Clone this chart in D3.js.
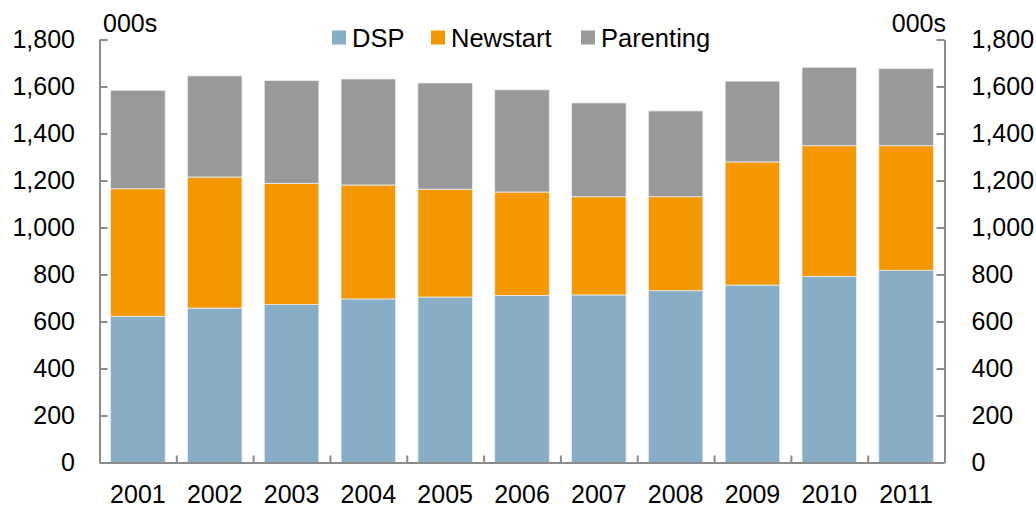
<!DOCTYPE html>
<html>
<head>
<meta charset="utf-8">
<script src="https://cdn.jsdelivr.net/npm/d3@7"></script>
<style>
  body { margin: 0; background: #fff; }
  svg text { font-family: "Liberation Sans", Arial, sans-serif; fill: #000; }
</style>
</head>
<body>
<svg id="chart" width="1036" height="507"></svg>
<script>
// values in thousands
const years = ['2001', '2002', '2003', '2004', '2005', '2006', '2007', '2008', '2009', '2010', '2011'];
const dsp = [622, 657, 672, 696, 704, 711, 713, 731, 755, 792, 818];
const newstart = [543, 558, 516, 485, 459, 440, 418, 400, 524, 556, 530];
const parenting = [419, 430, 437, 451, 452, 435, 399, 365, 344, 334, 328];
const seriesNames = ['DSP', 'Newstart', 'Parenting'];
const yTicks = [0, 200, 400, 600, 800, 1000, 1200, 1400, 1600, 1800];

const colors = { DSP: '#87aec6', Newstart: '#f39800', Parenting: '#999999' };

const svg = d3.select('#chart');
const plotLeft = 99.5, plotRight = 944.5, plotTop = 39.5, plotBottom = 462.5;

const rows = years.map((yr, i) => ({
    year: yr,
    DSP: dsp[i],
    Newstart: newstart[i],
    Parenting: parenting[i]
}));

const x = d3.scaleBand().domain(years).range([plotLeft, plotRight]).paddingInner(0.29).paddingOuter(0.145);
const y = d3.scaleLinear().domain([0, 1800]).range([plotBottom, plotTop]);

const layers = d3.stack().keys(seriesNames)(rows);

svg.append('g')
    .selectAll('g')
    .data(layers)
    .join('g')
    .attr('fill', d => colors[d.key])
    .selectAll('rect')
    .data(d => d)
    .join('rect')
    .attr('x', d => x(d.data.year))
    .attr('width', x.bandwidth())
    .attr('y', d => y(d[1]))
    .attr('height', d => y(d[0]) - y(d[1]))
    .attr('stroke', '#e8eef3')
    .attr('stroke-width', 0.8);

function styleAxis(g) {
    g.selectAll('path, line').attr('stroke', '#8c8c8c').attr('stroke-width', 2);
    g.selectAll('text').attr('font-size', 25).attr('fill', '#000');
}

const fmt = d3.format(',');

svg.append('g')
    .attr('transform', `translate(${plotLeft},0)`)
    .call(d3.axisLeft(y).tickValues(yTicks).tickFormat(fmt).tickSize(-8).tickSizeOuter(0).tickPadding(24.5))
    .call(styleAxis);

svg.append('g')
    .attr('transform', `translate(${plotRight},0)`)
    .call(d3.axisRight(y).tickValues(yTicks).tickFormat(fmt).tickSize(-8).tickSizeOuter(0).tickPadding(27))
    .call(styleAxis);

// category boundary ticks on the baseline
const xb = d3.scaleLinear().domain([0, years.length]).range([plotLeft, plotRight]);
svg.append('g')
    .attr('transform', `translate(0,${plotBottom})`)
    .call(d3.axisBottom(xb).tickValues(d3.range(0, years.length + 1)).tickFormat('').tickSize(-7).tickSizeOuter(0))
    .call(styleAxis);

svg.append('g')
    .attr('transform', `translate(0,${plotBottom})`)
    .call(d3.axisBottom(x).tickSize(0).tickPadding(23))
    .call(g => g.select('.domain').remove())
    .call(g => g.selectAll('text').attr('font-size', 25).attr('fill', '#000'));

// unit labels
svg.append('text').attr('x', 103).attr('y', 32).attr('font-size', 25).text('000s');
svg.append('text').attr('x', 946).attr('y', 32).attr('font-size', 25).attr('text-anchor', 'end').text('000s');

// legend
const legendX = [332, 431, 581];
const legend = svg.append('g');
seriesNames.forEach((name, i) => {
    legend.append('rect')
        .attr('x', legendX[i]).attr('y', 30.5)
        .attr('width', 14).attr('height', 14)
        .attr('fill', colors[name]);
    legend.append('text')
        .attr('x', legendX[i] + 20).attr('y', 47)
        .attr('font-size', 25.5)
        .text(name);
});
</script>
</body>
</html>
